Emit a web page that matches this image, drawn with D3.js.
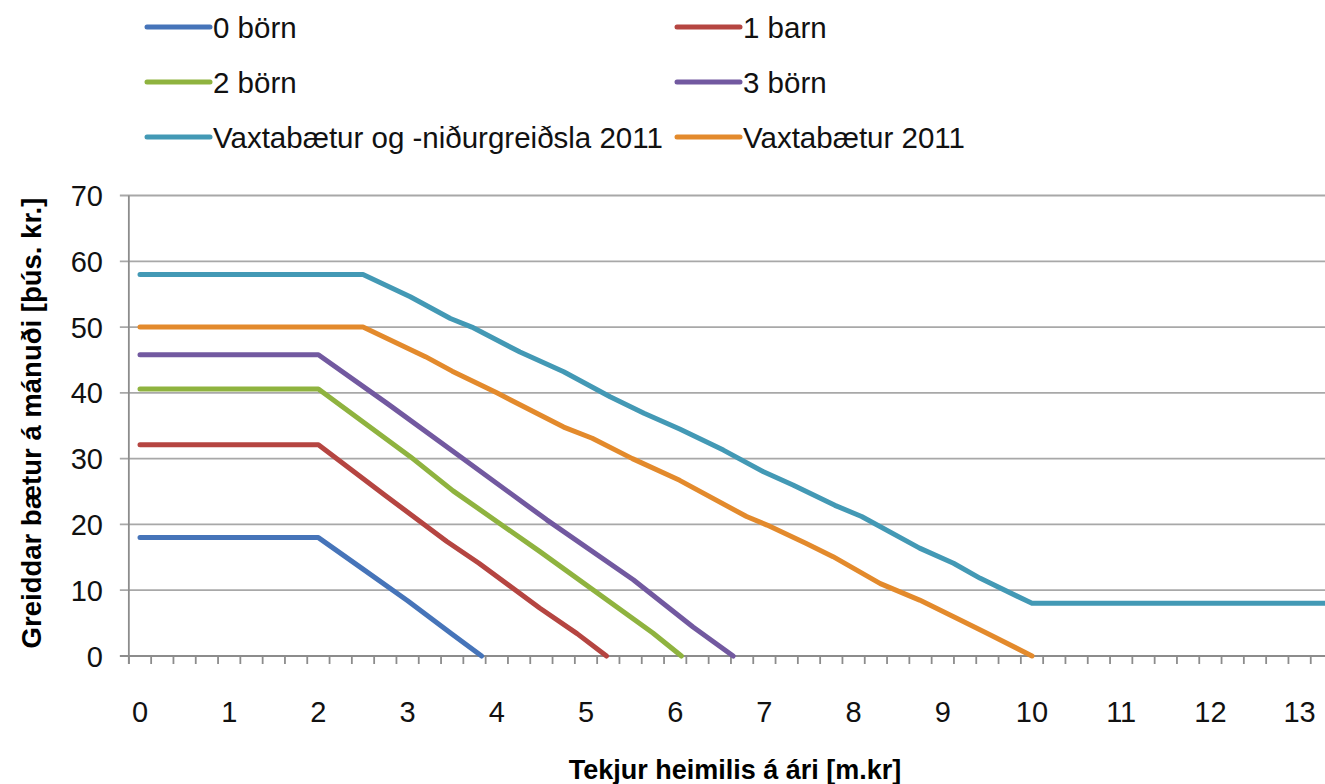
<!DOCTYPE html>
<html lang="is">
<head>
<meta charset="UTF-8">
<script src="https://d3js.org/d3.v7.min.js"></script>
<style>
  body { margin: 0; background: #fff; }
  text { font-family: "Liberation Sans", Arial, sans-serif; fill: #000; }
  .grid { stroke: #a8a8a8; stroke-width: 1.8; }
  .axis-line { stroke: #8c8c8c; stroke-width: 1.8; }
  .series { fill: none; stroke-width: 5; stroke-linejoin: round; stroke-linecap: round; }
</style>
</head>
<body>
<svg width="1325" height="784"></svg>
<script>
// series (x = tekjur í m.kr, y = þús. kr. á mánuði)
var born0 = [[0,18],[2,18],[2.5,13.2],[3,8.4],[3.5,3.3],[3.83,0]];
var barn1 = [[0,32.1],[2,32.1],[2.75,24.4],[3.44,17.4],[3.8,14.1],[4.48,7.3],[4.9,3.4],[5.23,0]];
var born2 = [[0,40.6],[2,40.6],[3.03,30.3],[3.51,25.1],[4.48,15.9],[5.75,3.5],[6.07,0]];
var born3 = [[0,45.8],[2,45.8],[2.77,38.4],[3.55,30.7],[4.56,20.7],[5.53,11.6],[6.2,4.4],[6.65,0]];
var vaxtaNidur = [[0,58],[2.5,58],[3.03,54.6],[3.48,51.3],[3.72,50],[4.26,46.2],[4.75,43.2],[5.27,39.4],
  [5.65,36.9],[6.05,34.5],[6.54,31.3],[6.99,28],[7.32,26],[7.79,22.9],[8.09,21.2],[8.74,16.4],
  [9.12,14.1],[9.42,11.8],[10,8],[13.6,8]];
var vaxta = [[0,50],[2.5,50],[3.2,45.5],[3.5,43.3],[4,40],[4.75,34.8],[5.07,33.1],[5.52,30],[6.05,26.7],
  [6.8,21.2],[7.03,19.9],[7.47,17.1],[7.77,15.1],[8.3,11],[8.74,8.5],[9.19,5.5],[9.49,3.5],[10,0]];

var seriesNames = ["0 börn", "1 barn", "2 börn", "3 börn", "Vaxtabætur og -niðurgreiðsla 2011", "Vaxtabætur 2011"];
var seriesData = [born0, barn1, born2, born3, vaxtaNidur, vaxta];
var seriesColors = ["#4674b9", "#b54541", "#8fb33f", "#7259a0", "#4399b5", "#e38a2c"];

var xLabels = [0,1,2,3,4,5,6,7,8,9,10,11,12,13];
var yLabels = [0,10,20,30,40,50,60,70];

var svg = d3.select("svg");

var x = d3.scaleLinear().domain([0, 13]).range([140, 140 + 13 * 89.2]);
var y = d3.scaleLinear().domain([0, 70]).range([656, 195.5]);

var plotLeft = x(-0.125), plotRight = x(13.6);

// gridlines
svg.selectAll(".grid")
  .data(yLabels.filter(function(d){ return d > 0; }))
  .enter().append("line")
  .attr("class", "grid")
  .attr("x1", plotLeft - 9).attr("x2", plotRight)
  .attr("y1", function(d){ return y(d); }).attr("y2", function(d){ return y(d); });

// y axis line + x axis line
svg.append("line").attr("class", "axis-line")
  .attr("x1", plotLeft).attr("x2", plotLeft)
  .attr("y1", y(70)).attr("y2", y(0) + 8);
svg.append("line").attr("class", "axis-line")
  .attr("x1", plotLeft - 9).attr("x2", plotRight)
  .attr("y1", y(0)).attr("y2", y(0));

// x tick marks between categories (every 0.25)
var xTicks = d3.range(-0.125, 13.7, 0.25);
svg.selectAll(".xtick")
  .data(xTicks)
  .enter().append("line")
  .attr("class", "axis-line")
  .attr("x1", function(d){ return x(d); }).attr("x2", function(d){ return x(d); })
  .attr("y1", y(0)).attr("y2", y(0) + 8);

// tick labels
svg.selectAll(".ylab")
  .data(yLabels)
  .enter().append("text")
  .attr("x", 103)
  .attr("y", function(d){ return y(d) + 10.5; })
  .attr("text-anchor", "end")
  .style("font-size", "29px")
  .style("fill", "#111")
  .text(function(d){ return d; });

svg.selectAll(".xlab")
  .data(xLabels)
  .enter().append("text")
  .attr("x", function(d){ return x(d); })
  .attr("y", 722)
  .attr("text-anchor", "middle")
  .style("font-size", "29px")
  .style("fill", "#111")
  .text(function(d){ return d; });

// axis titles
svg.append("text")
  .attr("x", 735).attr("y", 779)
  .attr("text-anchor", "middle")
  .style("font-size", "27px").style("font-weight", "bold")
  .text("Tekjur heimilis á ári [m.kr]");

svg.append("text")
  .attr("transform", "translate(41," + 423 + ") rotate(-90)")
  .attr("text-anchor", "middle")
  .style("font-size", "27.5px").style("font-weight", "bold")
  .text("Greiddar bætur á mánuði [þús. kr.]");

// lines
var line = d3.line()
  .x(function(d){ return x(d[0]); })
  .y(function(d){ return y(d[1]); });

svg.append("g")
  .selectAll("path")
  .data(seriesData)
  .enter().append("path")
  .attr("class", "series")
  .attr("stroke", function(d, i){ return seriesColors[i]; })
  .attr("d", line);

// legend
var legendCols = [147, 677];
var legendRows = [27, 82, 137];
var leg = svg.append("g").selectAll("g")
  .data(seriesNames)
  .enter().append("g")
  .attr("transform", function(d, i){
    return "translate(" + legendCols[i % 2] + "," + legendRows[Math.floor(i / 2)] + ")";
  });
leg.append("line")
  .attr("class", "series")
  .attr("x1", 0).attr("x2", 63).attr("y1", 0).attr("y2", 0)
  .attr("stroke", function(d, i){ return seriesColors[i]; });
leg.append("text")
  .attr("x", 66).attr("y", 10.5)
  .style("font-size", "29.5px")
  .style("fill", "#111")
  .text(function(d){ return d; });
</script>
</body>
</html>
